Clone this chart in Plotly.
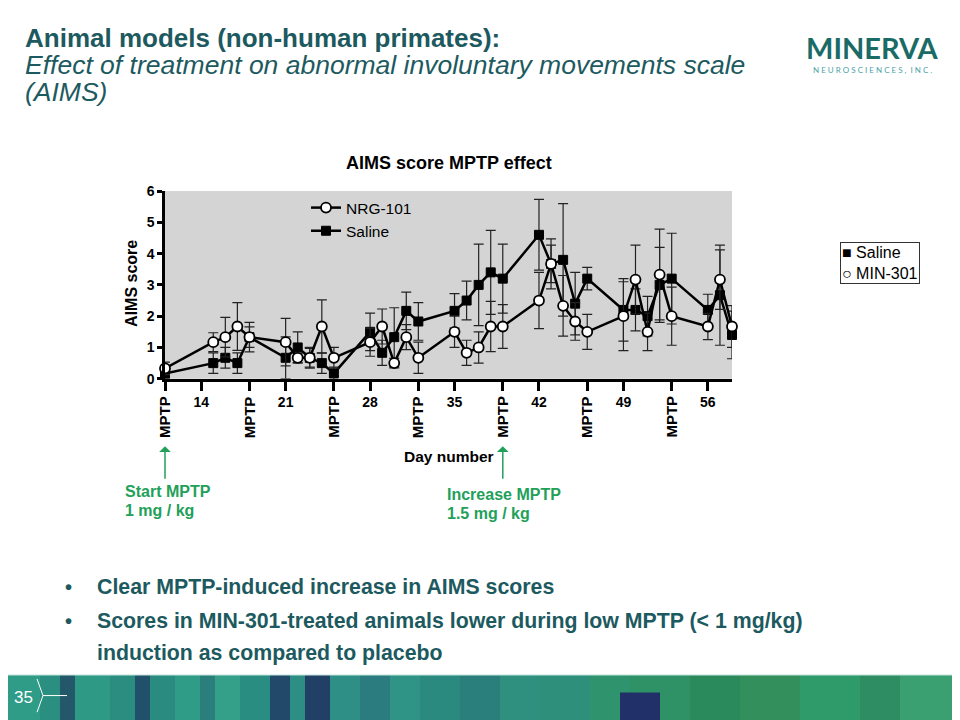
import plotly.graph_objects as go

# ---------------- data ----------------
days = [11, 15, 16, 17, 18, 21, 22, 23, 24, 25, 28, 29, 30, 31, 32, 35, 36, 37, 38, 39,
        42, 43, 44, 45, 46, 49, 50, 51, 52, 53, 56, 57, 58]
nrg101 = [0.33, 1.17, 1.33, 1.67, 1.33, 1.17, 0.67, 0.67, 1.67, 0.67, 1.17, 1.67, 0.5, 1.33, 0.67,
          1.5, 0.83, 1.0, 1.67, 1.67, 2.5, 3.67, 2.33, 1.83, 1.5, 2.0, 3.17, 1.5, 3.33, 2.0,
          1.67, 3.17, 1.67]
nrg101_err = [0.2, 0.3, 0.63, 0.76, 0.47, 0.76, 0.15, 0.33, 0.85, 0.33, 0.45, 0.56, 0.15, 0.4, 0.5,
              0.5, 0.4, 0.5, 0.8, 0.7, 0.9, 0.8, 0.97, 0.6, 0.56, 1.1, 1.1, 0.6, 1.45, 0.93,
              0.42, 0.95, 0.67]
saline = [0.17, 0.5, 0.67, 0.5, 1.33, 0.67, 1.0, 0.67, 0.5, 0.17, 1.5, 0.83, 1.33, 2.17, 1.83,
          2.17, 2.5, 3.0, 3.4, 3.2, 4.6, 3.67, 3.8, 2.4, 3.2, 2.2, 2.2, 2.0, 3.0, 3.2,
          2.2, 2.67, 1.4]
saline_err = [0.15, 0.33, 0.33, 0.33, 0.33, 0.67, 0.5, 0.3, 0.33, 0.2, 0.6, 0.4, 0.94, 0.6, 0.6,
              0.55, 0.62, 1.3, 1.34, 1.1, 1.13, 0.6, 1.8, 1.0, 0.36, 1.0, 0.67, 0.63, 1.2, 1.45,
              0.5, 1.6, 0.76]
week_ticks = [14, 21, 28, 35, 42, 49, 56]
mptp_days = [11, 18, 25, 32, 39, 46, 53]
start_day = 11
increase_day = 39

FONT = "Arial, Liberation Sans, sans-serif"
TEAL = "#1d5a60"
GREEN = "#22a05a"

W, H = 960, 720
OFF = 8  # page body margin compensation
def px(x): return (x - OFF) / W
def py(y): return 1 - (y - OFF) / H

fig = go.Figure()

fig.add_trace(go.Scatter(
    x=days, y=saline, name="Saline", mode="lines+markers",
    line=dict(color="black", width=2.5),
    marker=dict(symbol="square", size=9, color="black", line=dict(color="black", width=1)),
    error_y=dict(type="data", array=saline_err, visible=True, color="#222", thickness=1.2, width=5),
    cliponaxis=False, legendrank=2))
fig.add_trace(go.Scatter(
    x=days, y=nrg101, name="NRG-101", mode="lines+markers",
    line=dict(color="black", width=2.5),
    marker=dict(symbol="circle", size=10, color="white", line=dict(color="black", width=1.8)),
    error_y=dict(type="data", array=nrg101_err, visible=True, color="#222", thickness=1.2, width=5),
    cliponaxis=False, legendrank=1))

all_ticks = sorted(week_ticks + mptp_days)
tick_text = [str(d) if d in week_ticks else "" for d in all_ticks]

fig.update_layout(
    width=W, height=H, margin=dict(l=0, r=0, t=0, b=0),
    paper_bgcolor="white", plot_bgcolor="#d4d4d4",
    font=dict(family=FONT, color="black"),
    xaxis=dict(domain=[px(165), px(732)], range=[11, 58], showgrid=False, zeroline=False,
               showline=True, linecolor="black", linewidth=2.5,
               tickvals=all_ticks, ticktext=tick_text, ticks="outside", ticklen=9,
               tickwidth=2.5, tickcolor="black",
               tickfont=dict(family=FONT, size=14, color="black", weight="bold")),
    yaxis=dict(domain=[py(379), py(187)], range=[0, 6], showgrid=False, zeroline=False,
               showline=True, linecolor="black", linewidth=2.5,
               tickvals=[0, 1, 2, 3, 4, 5, 6], ticks="outside", ticklen=5, tickwidth=2.5,
               tickcolor="black",
               tickfont=dict(family=FONT, size=14, color="black", weight="bold")),
    legend=dict(x=px(306), y=py(187), xanchor="left", yanchor="top",
                bgcolor="rgba(0,0,0,0)", font=dict(family=FONT, size=15.5, color="black"),
                itemwidth=30, tracegroupgap=2),
    showlegend=True,
)

ann = []
def text(x, y, s, size, color="black", bold=False, italic=False, xanchor="left", angle=0, **kw):
    ann.append(dict(x=px(x), y=py(y), xref="paper", yref="paper", text=s, showarrow=False,
                    xanchor=xanchor, yanchor="middle", textangle=angle,
                    font=dict(family=FONT, size=size, color=color,
                              weight="bold" if bold else "normal",
                              style="italic" if italic else "normal"), **kw))

# slide title
text(24, 31, "Animal models (non-human primates):", 26, TEAL, bold=True, borderpad=0)
text(24, 58, "Effect of treatment on abnormal involuntary movements scale", 26.5, TEAL, italic=True, borderpad=0)
text(24, 86, "(AIMS)", 26.5, TEAL, italic=True, borderpad=0)

# logo
ann.append(dict(x=px(872), y=py(40), xref="paper", yref="paper", text="MINERVA", showarrow=False,
                xanchor="center", yanchor="middle",
                font=dict(family="Lato, Open Sans, sans-serif", size=29, color="#1a6b66", weight="bold")))
ann.append(dict(x=px(872), y=py(63), xref="paper", yref="paper",
                text="N E U R O S C I E N C E S ,  I N C .", showarrow=False,
                xanchor="center", yanchor="middle",
                font=dict(family="Lato, Open Sans, sans-serif", size=8, color="#4aa3a8")))

# chart labels
text(449, 158, "AIMS score MPTP effect", 18, bold=True, xanchor="center")
text(132, 282, "AIMS score", 16, bold=True, xanchor="center", angle=-90)
text(449, 458, "Day number", 15.5, bold=True, xanchor="center")

for d in mptp_days:
    ann.append(dict(x=d, y=py(418), xref="x", yref="paper", text="MPTP", showarrow=False,
                    xanchor="center", yanchor="middle", textangle=-90,
                    font=dict(family=FONT, size=15, color="black", weight="bold")))

# green arrows
for d in [start_day, increase_day]:
    ann.append(dict(x=d, y=py(448), xref="x", yref="paper", ax=0, ay=34,
                    text="", showarrow=True, arrowhead=1,
                    arrowsize=1.3, arrowwidth=1.5, arrowcolor=GREEN))

text(123, 494, "Start MPTP", 16, GREEN, bold=True)
text(123, 514, "1 mg / kg", 16, GREEN, bold=True)
text(445, 497, "Increase MPTP", 16, GREEN, bold=True)
text(445, 517, "1.5 mg / kg", 16, GREEN, bold=True)

# outer legend box
ann.append(dict(x=px(840), y=py(261), xref="paper", yref="paper",
                text="■ Saline<br>○ MIN-301", showarrow=False, align="left",
                xanchor="left", yanchor="middle", bordercolor="#333", borderwidth=1, borderpad=1,
                font=dict(family=FONT, size=16, color="black")))

# bullets
text(63, 592, "•", 20, TEAL, bold=True)
text(95, 592, "Clear MPTP-induced increase in AIMS scores", 21.3, TEAL, bold=True)
text(63, 627, "•", 20, TEAL, bold=True)
text(95, 627, "Scores in MIN-301-treated animals lower during low MPTP (< 1 mg/kg)", 21.3, TEAL, bold=True)
text(95, 659, "induction as compared to placebo", 21.3, TEAL, bold=True)

# footer decorative band
stripes = [
    (0, 40, "#2f9c88"), (40, 60, "#2a8f80"), (60, 75, "#23576a"), (75, 110, "#2e9a86"),
    (110, 135, "#2b8d7f"), (135, 150, "#21506a"), (150, 175, "#2a8c80"), (175, 200, "#2f9c88"),
    (200, 215, "#2a7f7c"), (215, 240, "#35a08a"), (240, 270, "#2a8d82"), (270, 290, "#23496a"),
    (290, 305, "#2d8e84"), (305, 330, "#223f66"), (330, 360, "#2e8f86"), (360, 390, "#2a7c7e"),
    (390, 420, "#2f9486"), (420, 460, "#2b8a80"), (460, 500, "#2a7f7c"), (500, 540, "#2f9080"),
    (540, 590, "#2e8f7a"), (590, 630, "#2f936e"), (630, 690, "#2f9266"), (690, 740, "#2a8a5c"),
    (740, 800, "#338f5c"), (800, 860, "#2f9a6a"), (860, 900, "#2e8d62"), (900, 968, "#3aa072"),
]
shapes = [dict(type="rect", xref="paper", yref="paper", x0=max(px(a), 0), x1=px(b), y0=0, y1=py(682),
               fillcolor=c, line=dict(width=0), layer="below") for a, b, c in stripes]
shapes.append(dict(type="rect", xref="paper", yref="paper", x0=px(620), x1=px(660), y0=0,
                   y1=py(700), fillcolor="#22306a", line=dict(width=0), layer="below"))
shapes.append(dict(type="line", xref="paper", yref="paper", x0=0, x1=1, y0=py(682), y1=py(682),
                   line=dict(color="#bfe3da", width=1)))
shapes.append(dict(type="path", xref="paper", yref="paper",
                   path=f"M {px(37)} {py(686)} L {px(43)} {py(703)} L {px(37)} {py(720)}",
                   line=dict(color="white", width=1)))
shapes.append(dict(type="line", xref="paper", yref="paper", x0=px(43), x1=px(67),
                   y0=py(703), y1=py(703), line=dict(color="white", width=1)))
text(12, 705, "35", 17, "white")

fig.update_layout(annotations=ann, shapes=shapes)
fig.write_html("out.html")
